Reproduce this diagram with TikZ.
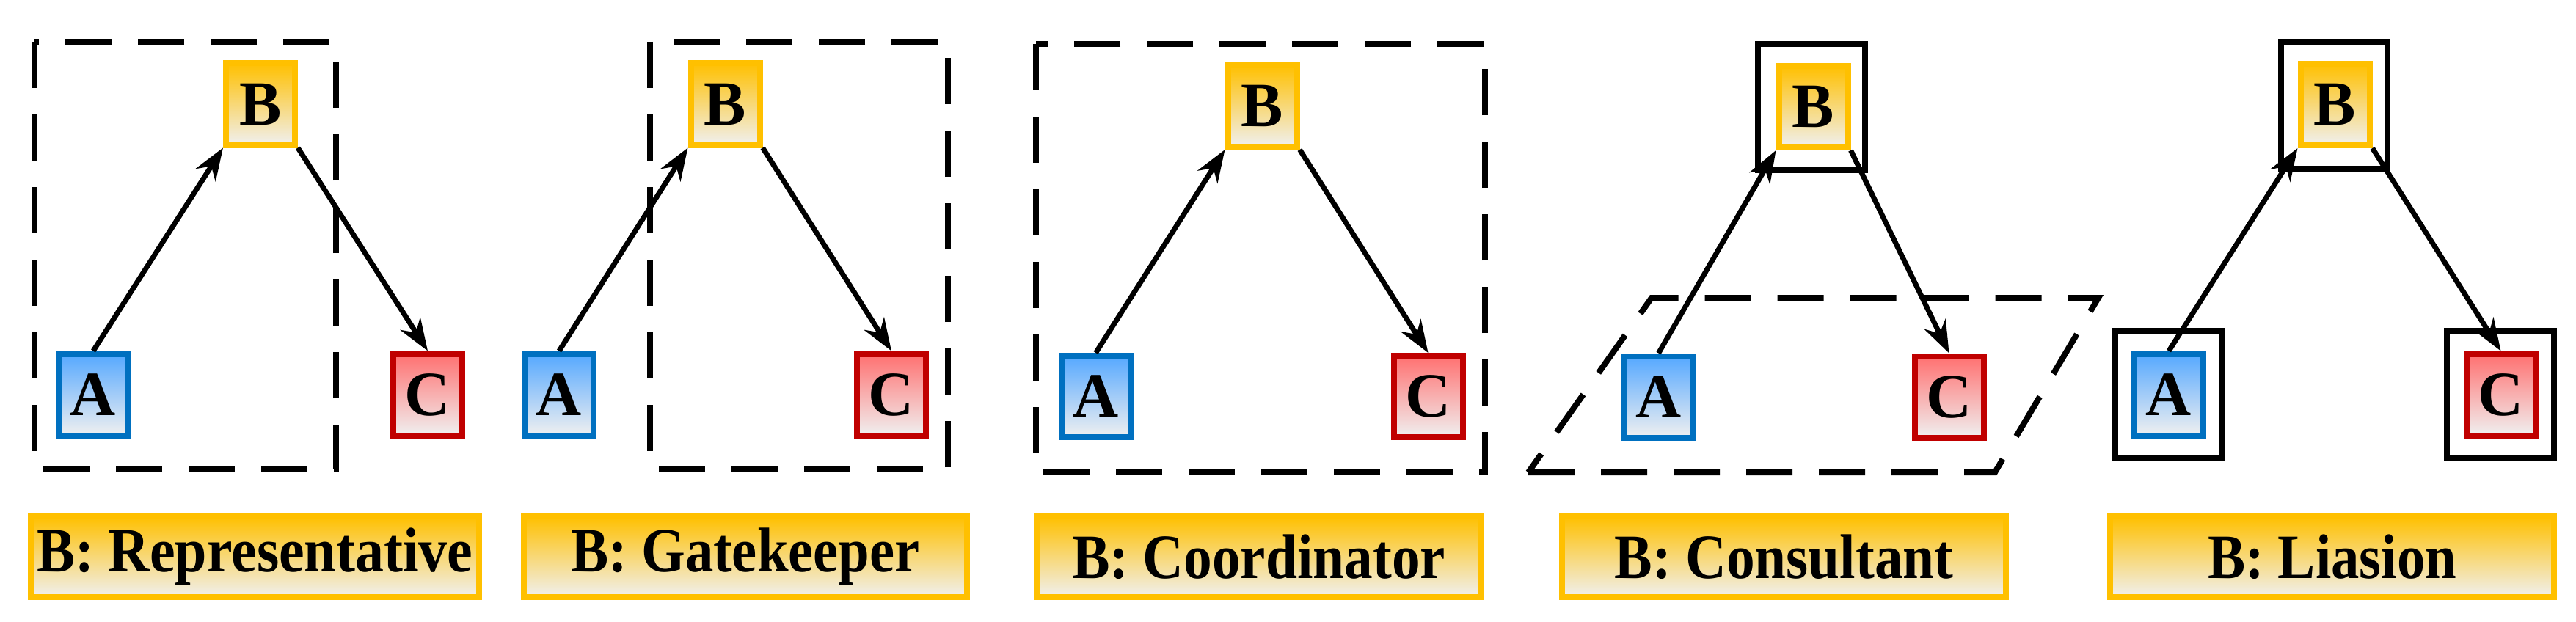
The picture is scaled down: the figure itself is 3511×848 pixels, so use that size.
\documentclass[tikz,border=0pt]{standalone}
\usepackage{fontspec}
\setmainfont{Liberation Serif}
\usetikzlibrary{arrows.meta}
\definecolor{bY}{HTML}{FFC000}
\definecolor{bB}{HTML}{0070C0}
\definecolor{fB}{HTML}{55A8FF}
\definecolor{bR}{HTML}{C00000}
\definecolor{fR}{HTML}{FF7070}
\definecolor{fW}{HTML}{F0F0F0}
\tikzset{
  box/.style={draw, line width=8pt, minimum width=94pt, minimum height=111pt, inner sep=0pt,
    font=\fontsize{86}{86}\selectfont\bfseries},
  nb/.style={box, draw=bY, top color=bY, bottom color=fW},
  na/.style={box, draw=bB, top color=fB, bottom color=fW},
  nc/.style={box, draw=bR, top color=fR, bottom color=fW},
  lab/.style={draw=bY, line width=8pt, top color=bY, bottom color=fW, inner sep=0pt,
    minimum width=606pt, minimum height=110pt, font=\fontsize{86}{86}\selectfont\bfseries},
  dbox/.style={draw, line width=8pt, dash pattern=on 63pt off 36pt},
  frame/.style={draw, line width=8pt, inner sep=0pt},
  arr/.style={line width=7pt, -{Stealth[length=44pt,width=32pt]}}
}
\newcommand{\fitw}[2]{\resizebox{#1}{\height}{#2}}
\begin{document}
\begin{tikzpicture}[x=1pt,y=-1pt]
\useasboundingbox (0,0) rectangle (3511,848);
% panel 1
\draw[dbox] (47,57) rectangle (458,639);
\node[nb] (b1) at (355,142) {B};
\node[na] (a1) at (127,538) {A};
\node[nc] (c1) at (583,538) {C};
\draw[arr] (a1.north) -- (b1.south west);
\draw[arr] (b1.south east) -- (c1.north);
\node[lab,minimum width=611pt] (l1) at (347.5,759) {\fitw{594pt}{B: Representative}};
% panel 2
\draw[dbox] (886,57) rectangle (1292,639);
\node[nb] (b2) at (988.5,142) {B};
\node[na] (a2) at (762,538) {A};
\node[nc] (c2) at (1215,538) {C};
\draw[arr] (a2.north) -- (b2.south west);
\draw[arr] (b2.south east) -- (c2.north);
\node[lab,minimum width=604pt] (l2) at (1016,759) {\fitw{475pt}{B: Gatekeeper}};
% panel 3
\draw[dbox] (1412,60) rectangle (2024,644);
\node[nb] (b3) at (1720.5,144.5) {B};
\node[na] (a3) at (1493.5,540.5) {A};
\node[nc] (c3) at (1946.5,540.5) {C};
\draw[arr] (a3.north) -- (b3.south west);
\draw[arr] (b3.south east) -- (c3.north);
\node[lab,minimum width=605pt] (l3) at (1715.5,759) {\fitw{509pt}{B: Coordinator}};
% panel 4
\draw[dbox] (2083,644) -- (2719,644) -- (2860,406) -- (2251,406) -- cycle;
\node[frame, minimum width=146pt, minimum height=172pt] (fb4) at (2469,146) {};
\node[nb] (b4) at (2471.5,145.5) {B};
\node[na] (a4) at (2260.5,541) {A};
\node[nc] (c4) at (2656.5,541) {C};
\draw[arr] (a4.north) -- (b4.south west);
\draw[arr] (b4.south east) -- (c4.north);
\node[lab,minimum width=605pt] (l4) at (2431.5,759) {\fitw{462pt}{B: Consultant}};
% panel 5
\node[frame, minimum width=145pt, minimum height=173pt] (fb5) at (3181.5,143.5) {};
\node[frame, minimum width=146pt, minimum height=174pt] (fa5) at (2956,538) {};
\node[frame, minimum width=146pt, minimum height=174pt] (fc5) at (3408,538) {};
\node[nb] (b5) at (3182.5,142.5) {B};
\node[na] (a5) at (2956,538) {A};
\node[nc] (c5) at (3408.5,538) {C};
\draw[arr] (a5.north) -- (b5.south west);
\draw[arr] (b5.south east) -- (c5.north);
\node[lab,minimum width=605pt] (l5) at (3178.5,759) {\fitw{339pt}{B: Liasion}};
\end{tikzpicture}
\end{document}
